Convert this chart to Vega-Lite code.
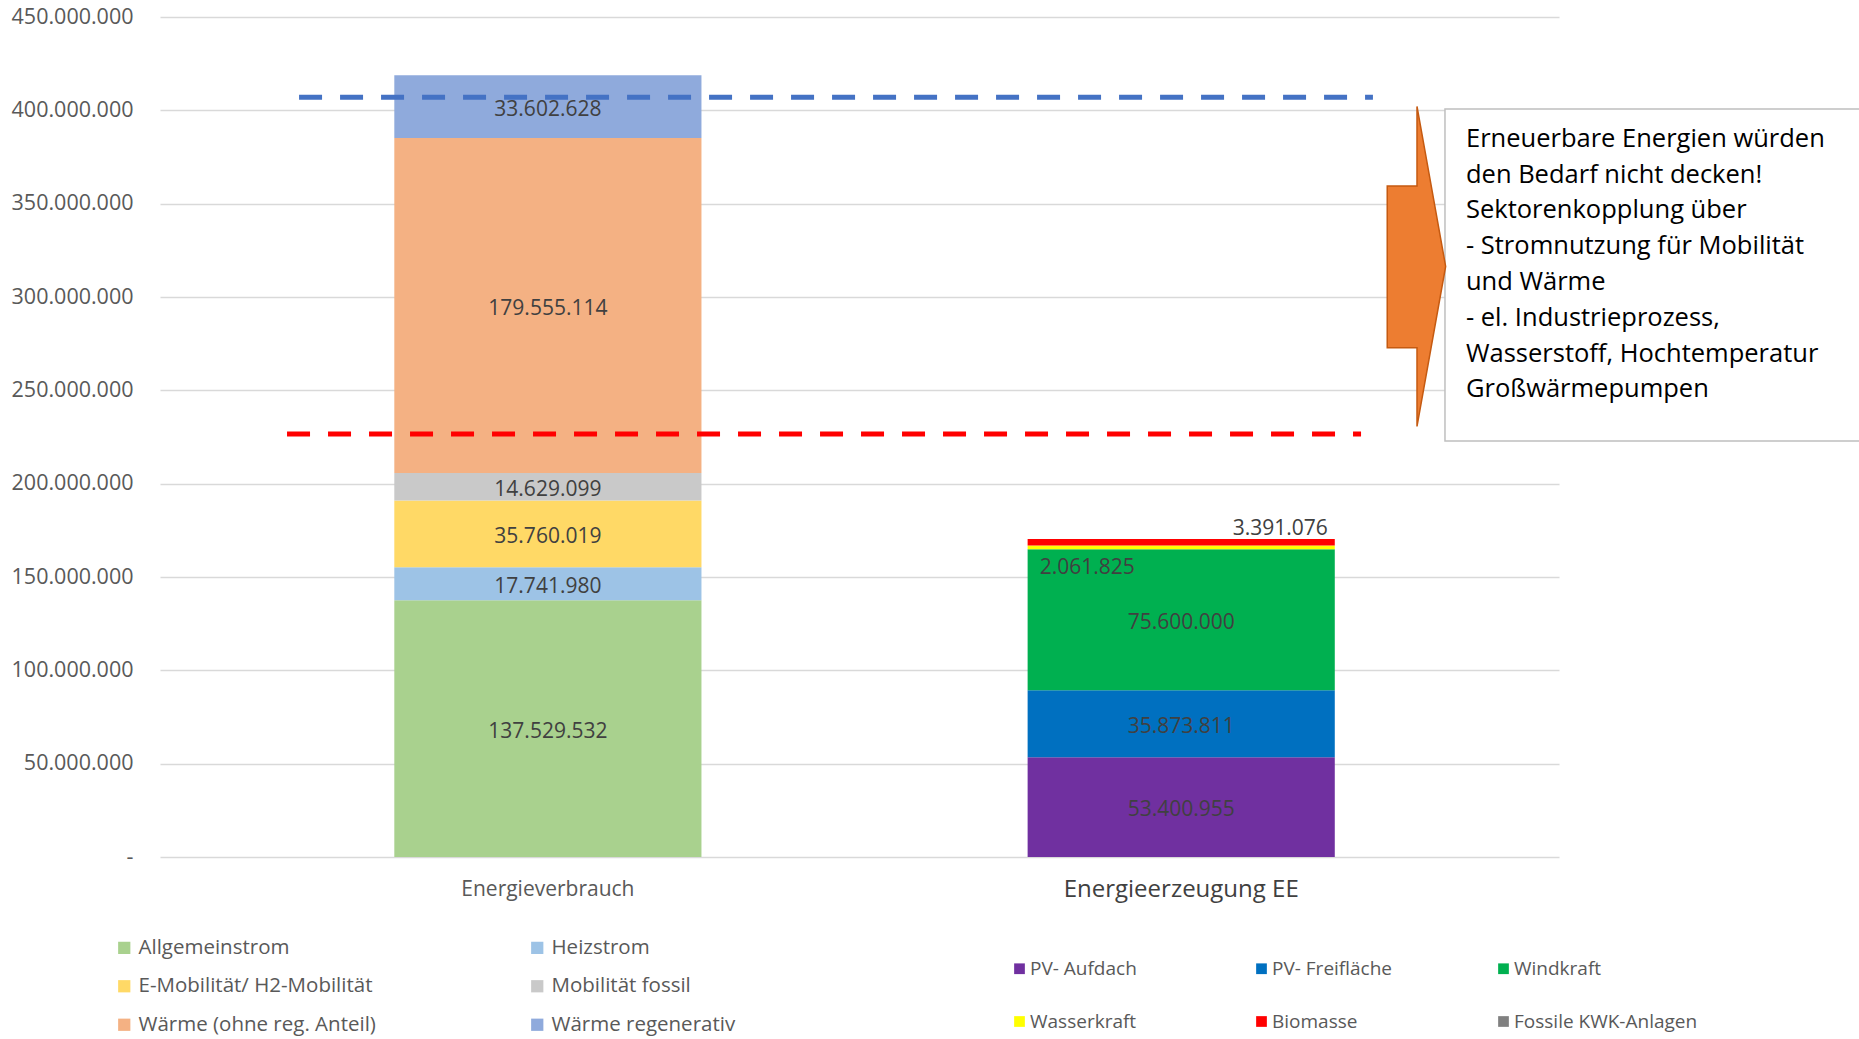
{
  "$schema": "https://vega.github.io/schema/vega-lite/v6.json",
  "width": 1399,
  "height": 840,
  "autosize": {"type": "none"},
  "padding": {"left": 160, "top": 17, "right": 300, "bottom": 182},
  "background": "white",
  "config": {
    "locale": {"number": {"decimal": ",", "thousands": ".", "grouping": [3], "currency": ["", " €"]}},
    "view": {"stroke": null},
    "font": "Open Sans",
    "axisY": {
      "domain": false, "ticks": false, "tickSize": 0, "grid": true,
      "gridColor": "#D9D9D9", "gridWidth": 1.5,
      "labelFont": "Open Sans", "labelFontSize": 21.5, "labelColor": "#595959", "labelPadding": 27
    }
  },
  "datasets": {
    "energie": [
      {"Kategorie": "Energieverbrauch", "Komponente": "Allgemeinstrom", "Nr": 1, "Wert": 137529532},
      {"Kategorie": "Energieverbrauch", "Komponente": "Heizstrom", "Nr": 2, "Wert": 17741980},
      {"Kategorie": "Energieverbrauch", "Komponente": "E-Mobilität/ H2-Mobilität", "Nr": 3, "Wert": 35760019},
      {"Kategorie": "Energieverbrauch", "Komponente": "Mobilität fossil", "Nr": 4, "Wert": 14629099},
      {"Kategorie": "Energieverbrauch", "Komponente": "Wärme (ohne reg. Anteil)", "Nr": 5, "Wert": 179555114},
      {"Kategorie": "Energieverbrauch", "Komponente": "Wärme regenerativ", "Nr": 6, "Wert": 33602628},
      {"Kategorie": "Energieerzeugung EE", "Komponente": "PV- Aufdach", "Nr": 1, "Wert": 53400955},
      {"Kategorie": "Energieerzeugung EE", "Komponente": "PV- Freifläche", "Nr": 2, "Wert": 35873811},
      {"Kategorie": "Energieerzeugung EE", "Komponente": "Windkraft", "Nr": 3, "Wert": 75600000},
      {"Kategorie": "Energieerzeugung EE", "Komponente": "Wasserkraft", "Nr": 4, "Wert": 2061825},
      {"Kategorie": "Energieerzeugung EE", "Komponente": "Biomasse", "Nr": 5, "Wert": 3391076},
      {"Kategorie": "Energieerzeugung EE", "Komponente": "Fossile KWK-Anlagen", "Nr": 6, "Wert": 0}
    ],
    "hinweis": [
      {"Text": "Erneuerbare Energien würden\nden Bedarf nicht decken!\nSektorenkopplung über\n- Stromnutzung für Mobilität\nund Wärme\n- el. Industrieprozess,\nWasserstoff, Hochtemperatur\nGroßwärmepumpen"}
    ]
  },
  "layer": [
    {
      "data": {"name": "energie"},
      "encoding": {
        "x": {
          "field": "Kategorie", "type": "nominal", "sort": null,
          "scale": {"domain": ["Energieverbrauch", "Energieerzeugung EE"], "paddingInner": 0.515, "paddingOuter": 0.362, "align": 0.511},
          "axis": {
            "title": null, "domain": false, "ticks": false, "grid": false, "labelAngle": 0,
            "labelPadding": 32, "labelBaseline": "middle", "labelLimit": 400, "labelFont": "Open Sans",
            "labelFontSize": {"condition": {"test": "datum.value === 'Energieerzeugung EE'", "value": 24}, "value": 21},
            "labelColor": {"condition": {"test": "datum.value === 'Energieerzeugung EE'", "value": "#404040"}, "value": "#595959"}
          }
        }
      },
      "layer": [
        {
          "transform": [{"filter": "datum.Kategorie === 'Energieverbrauch'"}],
          "mark": {"type": "bar"},
          "encoding": {
            "y": {
              "field": "Wert", "type": "quantitative", "stack": "zero",
              "scale": {"domain": [0, 450000000], "nice": false, "zero": true},
              "axis": {
                "title": null,
                "values": [0, 50000000, 100000000, 150000000, 200000000, 250000000, 300000000, 350000000, 400000000, 450000000],
                "format": ",d", "labelExpr": "datum.value === 0 ? '-' : datum.label"
              }
            },
            "color": {
              "field": "Komponente", "type": "nominal",
              "scale": {
                "domain": ["Allgemeinstrom", "E-Mobilität/ H2-Mobilität", "Wärme (ohne reg. Anteil)", "Heizstrom", "Mobilität fossil", "Wärme regenerativ"],
                "range": ["#A9D18E", "#FFD966", "#F4B183", "#9DC3E6", "#C9C9C9", "#8FAADC"]
              },
              "legend": {
                "title": null, "orient": "none", "legendX": -46, "legendY": 920.5, "columns": 2, "gridAlign": "all",
                "columnPadding": 151, "rowPadding": 17.5, "padding": 0, "symbolType": "square", "symbolSize": 150,
                "symbolStrokeWidth": 0, "labelFont": "Open Sans", "labelFontSize": 20.5, "labelColor": "#595959",
                "labelOffset": 4, "labelLimit": 400
              }
            },
            "order": {"field": "Nr", "type": "quantitative"}
          }
        },
        {
          "transform": [{"filter": "datum.Kategorie === 'Energieerzeugung EE'"}],
          "mark": {"type": "bar"},
          "encoding": {
            "y": {
              "field": "Wert", "type": "quantitative", "stack": "zero",
              "axis": {
                "title": null,
                "values": [0, 50000000, 100000000, 150000000, 200000000, 250000000, 300000000, 350000000, 400000000, 450000000],
                "format": ",d", "labelExpr": "datum.value === 0 ? '-' : datum.label"
              }
            },
            "color": {
              "field": "Komponente", "type": "nominal",
              "scale": {
                "domain": ["PV- Aufdach", "Wasserkraft", "PV- Freifläche", "Biomasse", "Windkraft", "Fossile KWK-Anlagen"],
                "range": ["#7030A0", "#FFFF00", "#0070C0", "#FF0000", "#00B050", "#808080"]
              },
              "legend": {
                "title": null, "orient": "none", "legendX": 850, "legendY": 942, "columns": 3, "gridAlign": "all",
                "columnPadding": 38, "rowPadding": 33, "padding": 0, "symbolType": "square", "symbolSize": 115,
                "symbolStrokeWidth": 0, "labelFont": "Open Sans", "labelFontSize": 19, "labelColor": "#595959",
                "labelOffset": 1, "labelLimit": 400
              }
            },
            "order": {"field": "Nr", "type": "quantitative"}
          }
        },
        {
          "transform": [{"filter": "datum.Wert > 10000000"}],
          "mark": {"type": "text", "font": "Open Sans", "fontSize": 21, "color": "#404040", "baseline": "middle", "align": "center", "dy": 3},
          "encoding": {
            "y": {
              "field": "Wert", "type": "quantitative", "stack": "zero", "bandPosition": 0.5,
              "axis": {
                "title": null,
                "values": [0, 50000000, 100000000, 150000000, 200000000, 250000000, 300000000, 350000000, 400000000, 450000000],
                "format": ",d", "labelExpr": "datum.value === 0 ? '-' : datum.label"
              }
            },
            "detail": {"field": "Komponente", "type": "nominal"},
            "order": {"field": "Nr", "type": "quantitative"},
            "text": {"field": "Wert", "type": "quantitative", "format": ",d"}
          }
        },
        {
          "transform": [{"filter": "datum.Kategorie === 'Energieerzeugung EE'"}],
          "mark": {"type": "text", "font": "Open Sans", "fontSize": 21, "color": "#404040", "baseline": "middle", "align": "center", "dx": -94, "dy": 20.5},
          "encoding": {
            "y": {
              "field": "Wert", "type": "quantitative", "stack": "zero", "bandPosition": 0.5,
              "axis": {
                "title": null,
                "values": [0, 50000000, 100000000, 150000000, 200000000, 250000000, 300000000, 350000000, 400000000, 450000000],
                "format": ",d", "labelExpr": "datum.value === 0 ? '-' : datum.label"
              }
            },
            "detail": {"field": "Komponente", "type": "nominal"},
            "order": {"field": "Nr", "type": "quantitative"},
            "text": {"condition": {"test": "datum.Komponente === 'Wasserkraft'", "field": "Wert", "type": "quantitative", "format": ",d"}, "value": ""}
          }
        },
        {
          "transform": [{"filter": "datum.Kategorie === 'Energieerzeugung EE'"}],
          "mark": {"type": "text", "font": "Open Sans", "fontSize": 21, "color": "#404040", "baseline": "middle", "align": "center", "dx": 99, "dy": -13.5},
          "encoding": {
            "y": {
              "field": "Wert", "type": "quantitative", "stack": "zero", "bandPosition": 0.5,
              "axis": {
                "title": null,
                "values": [0, 50000000, 100000000, 150000000, 200000000, 250000000, 300000000, 350000000, 400000000, 450000000],
                "format": ",d", "labelExpr": "datum.value === 0 ? '-' : datum.label"
              }
            },
            "detail": {"field": "Komponente", "type": "nominal"},
            "order": {"field": "Nr", "type": "quantitative"},
            "text": {"condition": {"test": "datum.Komponente === 'Biomasse'", "field": "Wert", "type": "quantitative", "format": ",d"}, "value": ""}
          }
        }
      ],
      "resolve": {"scale": {"color": "independent"}, "legend": {"color": "independent"}}
    },
    {
      "data": {"name": "hinweis"},
      "layer": [
        {
          "mark": {"type": "rule", "color": "#4472C4", "strokeWidth": 5, "strokeDash": [23, 18]},
          "encoding": {
            "x": {"datum": 0.0994, "type": "quantitative", "scale": {"domain": [0, 1], "nice": false, "zero": false}, "axis": null},
            "x2": {"datum": 0.867},
            "y": {"datum": 407000000, "type": "quantitative", "scale": {"domain": [0, 450000000], "nice": false}, "axis": null}
          }
        },
        {
          "mark": {"type": "rule", "color": "#FF0000", "strokeWidth": 5, "strokeDash": [23, 18]},
          "encoding": {
            "x": {"datum": 0.0908, "type": "quantitative", "axis": null},
            "x2": {"datum": 0.8585},
            "y": {"datum": 226600000, "type": "quantitative", "axis": null}
          }
        },
        {
          "mark": {"type": "rect", "fill": "white", "stroke": "#BFBFBF", "strokeWidth": 1.5, "clip": false},
          "encoding": {
            "x": {"datum": 0.9185, "type": "quantitative", "axis": null},
            "x2": {"datum": 1.25},
            "y": {"datum": 400700000, "type": "quantitative", "axis": null},
            "y2": {"datum": 222900000}
          }
        },
        {
          "mark": {"type": "point", "shape": "M-0.186,-0.502L0,-0.502L0,-1L0.179,0L0,1L0,0.508L-0.186,0.508Z", "size": 102400, "filled": true, "fill": "#ED7D31", "stroke": "#C55A11", "strokeWidth": 1.5, "opacity": 1, "clip": false},
          "encoding": {
            "x": {"datum": 0.8985, "type": "quantitative", "axis": null},
            "y": {"datum": 316400000, "type": "quantitative", "axis": null}
          }
        },
        {
          "mark": {"type": "text", "font": "Open Sans", "fontSize": 25.5, "color": "#000000", "align": "left", "baseline": "alphabetic", "lineBreak": "\n", "lineHeight": 35.8, "clip": false},
          "encoding": {
            "x": {"datum": 0.9335, "type": "quantitative", "axis": null},
            "y": {"datum": 380500000, "type": "quantitative", "axis": null},
            "text": {"field": "Text", "type": "nominal"}
          }
        }
      ]
    }
  ],
  "resolve": {"scale": {"x": "independent", "y": "independent"}, "axis": {"x": "independent", "y": "independent"}}
}
